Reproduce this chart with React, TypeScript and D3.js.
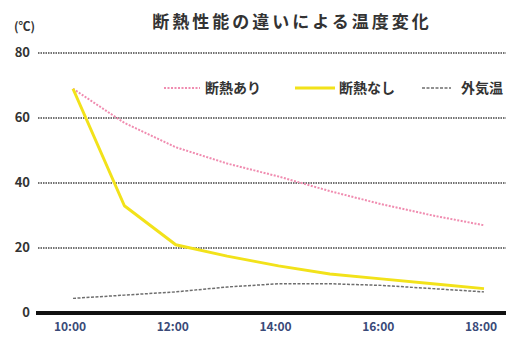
import React from "react";
import * as d3 from "d3";

const hours = [10, 11, 12, 13, 14, 15, 16, 17, 18];
const insulated = [69, 58.5, 51, 46, 42, 37.5, 33.5, 30, 27];
const uninsulated = [69, 33, 21, 17.5, 14.5, 12, 10.5, 9, 7.5];
const outside = [4.5, 5.5, 6.5, 8, 9, 9, 8.5, 7.5, 6.5];
const xTickHours = [10, 12, 14, 16, 18];
const xTickLabels = ["10:00", "12:00", "14:00", "16:00", "18:00"];
const yTicks = [0, 20, 40, 60, 80];
const seriesNames = ["断熱あり", "断熱なし", "外気温"];
const title = "断熱性能の違いによる温度変化";

const W = 506;
const H = 343;
const FONT = "'Noto Sans CJK JP', 'Noto Sans', sans-serif";

export default function App() {
  const x = d3.scaleLinear().domain([10, 18]).range([73, 484]);
  const y = d3.scaleLinear().domain([0, 80]).range([313, 53]);
  const line = (vals: number[]) =>
    d3
      .line<number>()
      .x((_, i) => x(hours[i]))
      .y((d) => y(d))(vals) || "";

  const series = [
    { name: seriesNames[0], vals: insulated, color: "#f08cb0", width: 2, dash: "2,1.5" },
    { name: seriesNames[1], vals: uninsulated, color: "#f2e21a", width: 3, dash: "" },
    { name: seriesNames[2], vals: outside, color: "#6e6e6e", width: 1.5, dash: "3,1.5" },
  ];
  const legendPos = [
    { x1: 164, x2: 200, tx: 205 },
    { x1: 295, x2: 335, tx: 339 },
    { x1: 422, x2: 451, tx: 461 },
  ];

  return (
    <svg
      width={W}
      height={H}
      style={{ position: "absolute", left: 0, top: 0, background: "#fff" }}
      fontFamily={FONT}
    >
      <rect width={W} height={H} fill="#fff" />
      <text x={292} y={28} textAnchor="middle" fontSize={17} letterSpacing={3} fill="#333" fontWeight="bold">
        {title}
      </text>
      <text x={14} y={31} fontSize={12} fill="#333" fontWeight="bold">(℃)</text>

      {yTicks.map((t) =>
        t === 0 ? null : (
          <line
            key={"g" + t}
            x1={38}
            x2={W}
            y1={y(t)}
            y2={y(t)}
            stroke="#444"
            strokeWidth={1.3}
            strokeDasharray="1.5,1"
          />
        )
      )}
      {yTicks.map((t) => (
        <text
          key={"yl" + t}
          x={30}
          y={y(t) + 4}
          textAnchor="end"
          fontSize={13}
          fill="#333"
          fontWeight="bold"
        >
          {t}
        </text>
      ))}

      {series.map((s) => (
        <path
          key={s.name}
          d={line(s.vals)}
          fill="none"
          stroke={s.color}
          strokeWidth={s.width}
          strokeDasharray={s.dash || undefined}
          strokeLinejoin="round"
        />
      ))}

      <line x1={36} x2={W} y1={y(0)} y2={y(0)} stroke="#111" strokeWidth={4} />

      {xTickHours.map((h, i) => (
        <text
          key={"xl" + h}
          x={x(h) - 3}
          y={331}
          textAnchor="middle"
          fontSize={12}
          fill="#3a4a78"
          fontWeight="bold"
        >
          {xTickLabels[i]}
        </text>
      ))}

      {series.map((s, i) => (
        <g key={"lg" + s.name}>
          <line
            x1={legendPos[i].x1}
            x2={legendPos[i].x2}
            y1={88}
            y2={88}
            stroke={s.color}
            strokeWidth={s.width}
            strokeDasharray={s.dash || undefined}
          />
          <text x={legendPos[i].tx} y={93} fontSize={14} fill="#333" fontWeight="bold">
            {s.name}
          </text>
        </g>
      ))}
    </svg>
  );
}
